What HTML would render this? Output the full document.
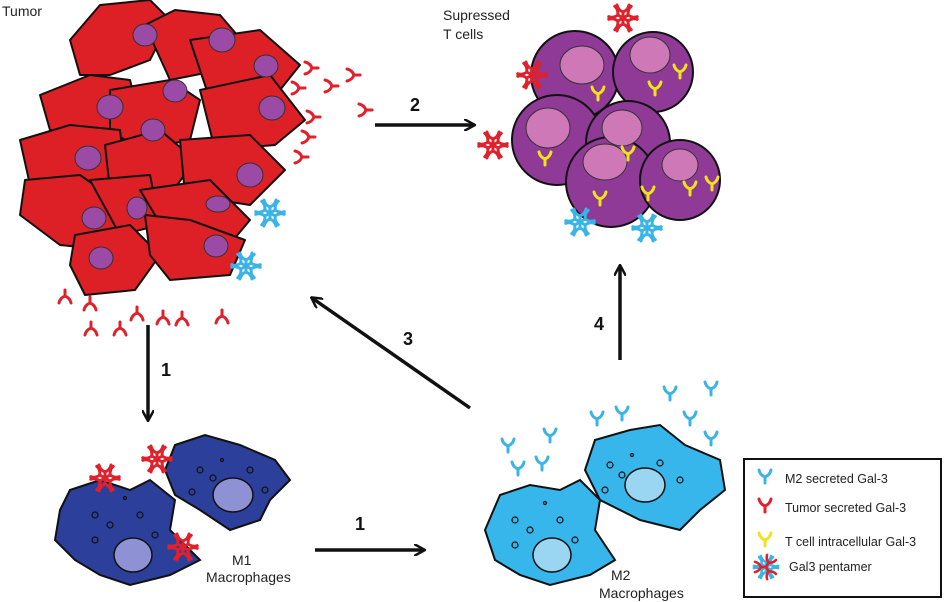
<!DOCTYPE html>
<html><head><style>
html,body{margin:0;padding:0;background:#fff;}
svg{display:block;font-family:"Liberation Sans",sans-serif;}
</style></head><body>
<svg width="945" height="602" viewBox="0 0 945 602" xmlns="http://www.w3.org/2000/svg">
<defs>
<g id="y"><path d="M0,0 L0,-6 M0,-6 Q-5,-8 -6,-13 M0,-6 Q5,-8 6,-13" stroke-width="3" fill="none" stroke-linecap="round"/></g>
<g id="star">
<use href="#y" transform="rotate(0)"/><use href="#y" transform="rotate(60)"/><use href="#y" transform="rotate(120)"/><use href="#y" transform="rotate(180)"/><use href="#y" transform="rotate(240)"/><use href="#y" transform="rotate(300)"/>
</g>
<marker id="ah" markerWidth="12" markerHeight="12" refX="10" refY="6" orient="auto" markerUnits="userSpaceOnUse"><path d="M0,0 L11,6 L0,12" fill="none" stroke="#111" stroke-width="2.5"/></marker>
</defs>

<text x="2" y="16" font-size="14" fill="#222">Tumor</text>
<text x="443" y="20" font-size="14" fill="#222">Supressed</text>
<text x="443" y="39" font-size="14" fill="#222">T cells</text>

<!-- Tumor -->
<g stroke="#111" stroke-width="2" fill="#dd1f26" stroke-linejoin="round">
<path d="M70,40 L100,5 L150,0 L170,20 L150,60 L110,75 L80,75 Z"/>
<path d="M145,25 L175,10 L220,15 L250,50 L220,70 L170,80 Z"/>
<path d="M190,40 L260,30 L300,65 L280,90 L210,100 Z"/>
<path d="M40,95 L90,75 L130,80 L140,120 L100,140 L50,130 Z"/>
<path d="M110,90 L170,80 L200,100 L190,140 L140,150 L110,130 Z"/>
<path d="M200,90 L270,75 L305,120 L275,145 L215,150 Z"/>
<path d="M20,140 L70,125 L120,130 L125,175 L90,195 L30,185 Z"/>
<path d="M105,145 L160,130 L195,160 L170,195 L110,190 Z"/>
<path d="M180,140 L250,135 L285,170 L250,205 L185,195 Z"/>
<path d="M25,180 L80,175 L130,210 L110,250 L60,245 L20,215 Z"/>
<path d="M90,180 L150,175 L160,225 L120,235 Z"/>
<path d="M140,190 L210,180 L250,220 L225,250 L170,240 Z"/>
<path d="M75,235 L130,225 L160,255 L135,290 L85,295 L70,265 Z"/>
<path d="M145,215 L190,220 L245,240 L230,275 L170,280 L150,255 Z"/>
</g>
<g fill="#9b4aa6" stroke="#333" stroke-width="1">
<ellipse cx="145" cy="35" rx="12" ry="11"/><ellipse cx="222" cy="40" rx="13" ry="12"/><ellipse cx="266" cy="66" rx="12" ry="11"/>
<ellipse cx="110" cy="107" rx="13" ry="12"/><ellipse cx="175" cy="91" rx="12" ry="11"/><ellipse cx="272" cy="108" rx="13" ry="12"/>
<ellipse cx="88" cy="158" rx="13" ry="12"/><ellipse cx="153" cy="130" rx="12" ry="11"/><ellipse cx="250" cy="175" rx="13" ry="12"/>
<ellipse cx="94" cy="218" rx="12" ry="11"/><ellipse cx="137" cy="208" rx="10" ry="11"/><ellipse cx="216" cy="246" rx="12" ry="11"/><ellipse cx="101" cy="258" rx="12" ry="11"/><ellipse cx="218" cy="204" rx="12" ry="8"/>
</g>
<g stroke="#e0202a">
<use href="#y" transform="translate(318,68) rotate(-90)"/><use href="#y" transform="translate(360,75) rotate(-90)"/>
<use href="#y" transform="translate(305,88) rotate(-90)"/><use href="#y" transform="translate(338,86) rotate(-90)"/>
<use href="#y" transform="translate(372,110) rotate(-90)"/><use href="#y" transform="translate(320,117) rotate(-90)"/>
<use href="#y" transform="translate(315,137) rotate(-90)"/><use href="#y" transform="translate(308,157) rotate(-90)"/>
<use href="#y" transform="translate(65,290) rotate(180)"/><use href="#y" transform="translate(90,297) rotate(180)"/><use href="#y" transform="translate(137,307) rotate(180)"/>
<use href="#y" transform="translate(163,311) rotate(180)"/><use href="#y" transform="translate(182,312) rotate(180)"/><use href="#y" transform="translate(222,310) rotate(180)"/>
<use href="#y" transform="translate(91,322) rotate(180)"/><use href="#y" transform="translate(120,322) rotate(180)"/>
</g>
<g stroke="#3ab3e6"><use href="#star" transform="translate(270,213)"/><use href="#star" transform="translate(246,266)"/></g>

<!-- T cells -->
<g fill="#8e3a96" stroke="#111" stroke-width="2">
<circle cx="575" cy="75" r="44"/><circle cx="653" cy="72" r="40"/>
<circle cx="557" cy="140" r="45"/><circle cx="628" cy="143" r="42"/>
<circle cx="611" cy="182" r="45"/><circle cx="680" cy="180" r="40"/>
</g>
<g fill="#cf78b8" stroke="#333" stroke-width="1">
<ellipse cx="582" cy="65" rx="22" ry="19"/><ellipse cx="650" cy="55" rx="20" ry="18"/>
<ellipse cx="548" cy="128" rx="22" ry="20"/><ellipse cx="622" cy="128" rx="20" ry="18"/>
<ellipse cx="605" cy="162" rx="22" ry="18"/><ellipse cx="680" cy="165" rx="18" ry="16"/>
</g>
<g stroke="#f2e318">
<use href="#y" transform="translate(598,100)"/><use href="#y" transform="translate(655,95)"/><use href="#y" transform="translate(680,78)"/>
<use href="#y" transform="translate(545,165)"/><use href="#y" transform="translate(628,160)"/><use href="#y" transform="translate(648,200)"/>
<use href="#y" transform="translate(600,205)"/><use href="#y" transform="translate(690,195)"/><use href="#y" transform="translate(712,190)"/>
</g>
<g stroke="#e0202a"><use href="#star" transform="translate(623,18)"/><use href="#star" transform="translate(532,75)"/><use href="#star" transform="translate(493,145)"/></g>
<g stroke="#3ab3e6"><use href="#star" transform="translate(580,222)"/><use href="#star" transform="translate(647,228)"/></g>

<!-- M1 -->
<g fill="#2c3f9a" stroke="#111" stroke-width="2">
<path d="M175,445 L205,435 L240,445 L275,460 L290,480 L270,500 L260,520 L230,530 L200,510 L175,495 L165,470 Z"/>
<path d="M70,490 L100,480 L130,490 L150,480 L175,500 L170,530 L200,560 L170,575 L130,585 L100,575 L75,560 L55,540 L60,510 Z"/>
</g>
<g fill="#8e92d4" stroke="#111" stroke-width="1.5"><ellipse cx="233" cy="495" rx="20" ry="17"/><ellipse cx="133" cy="555" rx="19" ry="17"/></g>
<g fill="none" stroke="#111" stroke-width="1.2">
<circle cx="200" cy="470" r="3"/><circle cx="213" cy="478" r="3"/><circle cx="250" cy="470" r="3"/><circle cx="265" cy="490" r="3"/><circle cx="192" cy="492" r="3"/><circle cx="222" cy="460" r="1.5"/>
<circle cx="95" cy="515" r="3"/><circle cx="110" cy="525" r="3"/><circle cx="140" cy="515" r="3"/><circle cx="155" cy="535" r="3"/><circle cx="95" cy="540" r="3"/><circle cx="125" cy="498" r="1.5"/>
</g>
<g stroke="#e0202a"><use href="#star" transform="translate(105,478)"/><use href="#star" transform="translate(157,459)"/><use href="#star" transform="translate(183,547)"/></g>
<text x="232" y="565" font-size="14" fill="#222">M1</text>
<text x="206" y="582" font-size="14" fill="#222">Macrophages</text>

<!-- M2 -->
<g fill="#36b6ea" stroke="#111" stroke-width="2">
<path d="M595,440 L630,430 L660,425 L685,445 L720,460 L725,490 L700,510 L680,530 L640,520 L600,500 L585,470 Z"/>
<path d="M500,495 L530,485 L560,490 L580,480 L600,500 L595,530 L615,560 L590,575 L550,585 L520,575 L495,560 L485,530 Z"/>
</g>
<g fill="#9ad5f2" stroke="#111" stroke-width="1.5"><ellipse cx="645" cy="485" rx="20" ry="17"/><ellipse cx="552" cy="555" rx="19" ry="17"/></g>
<g fill="none" stroke="#111" stroke-width="1.2">
<circle cx="610" cy="465" r="3"/><circle cx="622" cy="475" r="3"/><circle cx="660" cy="463" r="3"/><circle cx="680" cy="480" r="3"/><circle cx="605" cy="490" r="3"/><circle cx="632" cy="455" r="1.5"/>
<circle cx="515" cy="520" r="3"/><circle cx="530" cy="530" r="3"/><circle cx="560" cy="520" r="3"/><circle cx="575" cy="540" r="3"/><circle cx="515" cy="545" r="3"/><circle cx="545" cy="503" r="1.5"/>
</g>
<g stroke="#3ab3e6">
<use href="#y" transform="translate(597,425)"/><use href="#y" transform="translate(622,420)"/><use href="#y" transform="translate(670,400)"/>
<use href="#y" transform="translate(711,395)"/><use href="#y" transform="translate(690,425)"/><use href="#y" transform="translate(711,445)"/>
<use href="#y" transform="translate(508,452)"/><use href="#y" transform="translate(550,442)"/><use href="#y" transform="translate(518,475)"/><use href="#y" transform="translate(542,470)"/>
</g>
<text x="611" y="580" font-size="14" fill="#222">M2</text>
<text x="599" y="598" font-size="14" fill="#222">Macrophages</text>

<!-- Arrows -->
<g stroke="#111" stroke-width="3.5" fill="none" marker-end="url(#ah)">
<line x1="148" y1="325" x2="148" y2="420"/>
<line x1="375" y1="125" x2="474" y2="125"/>
<line x1="470" y1="408" x2="312" y2="298"/>
<line x1="620" y1="360" x2="620" y2="266"/>
<line x1="315" y1="550" x2="424" y2="550"/>
</g>
<g font-size="18" font-weight="bold" fill="#111">
<text x="161" y="376">1</text><text x="410" y="111">2</text><text x="403" y="345">3</text><text x="594" y="330">4</text><text x="355" y="530">1</text>
</g>

<!-- Legend -->
<rect x="744" y="459" width="197" height="138" fill="#fff" stroke="#111" stroke-width="2"/>
<g stroke="#3ab3e6"><use href="#y" transform="translate(765,483)"/></g>
<g stroke="#e0202a"><use href="#y" transform="translate(765,512)"/></g>
<g stroke="#f2e318"><use href="#y" transform="translate(765,546)"/></g>
<g stroke="#3ab3e6"><use href="#star" transform="translate(766,567) scale(0.85)"/></g>
<g stroke="#e0202a"><use href="#y" transform="translate(766,567) rotate(30) scale(0.85)"/><use href="#y" transform="translate(766,567) rotate(150) scale(0.85)"/><use href="#y" transform="translate(766,567) rotate(270) scale(0.85)"/></g>
<g font-size="12.5" fill="#222">
<text x="785" y="483">M2 secreted Gal-3</text>
<text x="785" y="512">Tumor secreted Gal-3</text>
<text x="785" y="546">T cell intracellular Gal-3</text>
<text x="789" y="571">Gal3 pentamer</text>
</g>
</svg>
</body></html>
